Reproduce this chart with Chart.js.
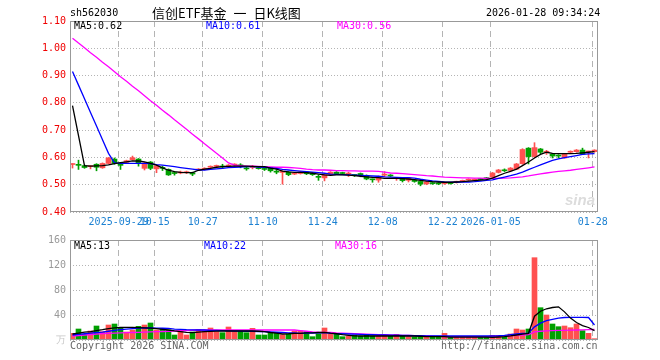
<!DOCTYPE html>
<html>
<head>
<meta charset="utf-8">
<script src="https://cdn.jsdelivr.net/npm/chart.js@4.4.1/dist/chart.umd.min.js"></script>
<style>
body{margin:0;background:#fff;}
#wrap{position:relative;width:660px;height:360px;overflow:hidden;}
canvas{position:absolute;left:0;}
.t{position:absolute;font:10px "DejaVu Sans Mono",monospace;line-height:10px;white-space:pre;}
</style>
</head>
<body>
<div id="wrap">
<canvas id="k" width="660" height="230" style="top:0"></canvas>
<canvas id="v" width="660" height="130" style="top:230px"></canvas>
<div class="t" style="left:70px;top:8px;color:#000">sh562030</div>
<div class="t" style="left:152px;top:6px;font:13px 'Noto Sans CJK SC';line-height:14px;word-spacing:4px;color:#000">信创ETF基金 一 日K线图</div>
<div class="t" style="left:486px;top:8px;color:#000">2026-01-28 09:34:24</div>
<div class="t" style="left:74px;top:21px;color:#000">MA5:0.62</div>
<div class="t" style="left:206px;top:21px;color:#0000ff">MA10:0.61</div>
<div class="t" style="left:337px;top:21px;color:#ff00ff">MA30:0.56</div>
<div class="t" style="left:565px;top:192px;font:bold italic 15px 'Liberation Sans';line-height:15px;color:#dcdcdc">sina</div>
<div class="t" style="left:74px;top:241px;color:#000">MA5:13</div>
<div class="t" style="left:204px;top:241px;color:#0000ff">MA10:22</div>
<div class="t" style="left:335px;top:241px;color:#ff00ff">MA30:16</div>
<div class="t" style="left:70px;top:341px;color:#666">Copyright 2026 SINA.COM</div>
<div class="t" style="left:441px;top:341px;color:#666">http://finance.sina.com.cn</div>
</div>
<script>
// candles, 2025-09-17 .. 2026-01-28
const opens = [0.574,0.573,0.570,0.566,0.575,0.562,0.578,0.594,0.573,0.582, 0.592,0.594,0.560,0.583,0.558,0.562,0.556,0.543,0.543,0.544,
  0.544,0.554,0.557,0.564,0.567,0.567,0.567,0.572,0.571,0.561, 0.563,0.562,0.558,0.561,0.548,0.545,0.546,0.539,0.541,0.547,
  0.543,0.529,0.525,0.538,0.546,0.543,0.539,0.536,0.541,0.534, 0.520,0.517,0.535,0.534,0.523,0.525,0.516,0.517,0.512,0.503,
  0.506,0.505,0.504,0.506,0.509,0.512,0.517,0.517,0.521,0.524, 0.528,0.545,0.553,0.552,0.557,0.577,0.634,0.603,0.631,0.619,
  0.612,0.607,0.598,0.619,0.621,0.627,0.620,0.621];
const highs = [0.577,0.590,0.572,0.570,0.577,0.580,0.600,0.598,0.575,0.590, 0.605,0.596,0.582,0.585,0.571,0.568,0.558,0.548,0.550,0.550,
  0.546,0.559,0.562,0.569,0.572,0.575,0.574,0.577,0.577,0.566, 0.571,0.563,0.562,0.563,0.555,0.551,0.548,0.543,0.549,0.548,
  0.545,0.536,0.539,0.548,0.548,0.546,0.546,0.538,0.543,0.536, 0.521,0.532,0.548,0.537,0.527,0.527,0.527,0.519,0.514,0.512,
  0.508,0.507,0.508,0.508,0.513,0.517,0.522,0.521,0.523,0.527, 0.545,0.556,0.558,0.563,0.578,0.632,0.636,0.654,0.633,0.626,
  0.614,0.610,0.614,0.624,0.629,0.634,0.623,0.628];
const lows = [0.561,0.556,0.560,0.558,0.551,0.560,0.576,0.575,0.556,0.580, 0.590,0.568,0.554,0.555,0.544,0.552,0.534,0.535,0.540,0.541,
  0.533,0.552,0.554,0.560,0.563,0.559,0.565,0.568,0.562,0.553, 0.558,0.557,0.552,0.546,0.540,0.502,0.533,0.537,0.539,0.537,
  0.534,0.516,0.514,0.535,0.537,0.538,0.530,0.530,0.529,0.518, 0.509,0.509,0.530,0.530,0.516,0.510,0.510,0.509,0.496,0.500,
  0.501,0.500,0.501,0.502,0.506,0.510,0.514,0.515,0.517,0.519, 0.526,0.543,0.548,0.550,0.555,0.575,0.576,0.600,0.614,0.611,
  0.598,0.598,0.597,0.616,0.619,0.610,0.598,0.619];
const closes = [0.576,0.571,0.563,0.568,0.564,0.578,0.598,0.578,0.571,0.588, 0.599,0.577,0.580,0.560,0.569,0.560,0.536,0.541,0.545,0.546,
  0.539,0.557,0.559,0.566,0.569,0.565,0.572,0.574,0.569,0.558, 0.566,0.559,0.556,0.551,0.546,0.549,0.537,0.541,0.547,0.540,
  0.537,0.527,0.537,0.546,0.539,0.541,0.541,0.534,0.534,0.521, 0.518,0.530,0.537,0.532,0.525,0.515,0.525,0.512,0.502,0.510,
  0.504,0.503,0.506,0.504,0.511,0.514,0.519,0.519,0.519,0.522, 0.543,0.554,0.551,0.561,0.576,0.629,0.603,0.636,0.619,0.621,
  0.605,0.605,0.612,0.621,0.627,0.612,0.621,0.627];
const ma5 = [0.79,0.68,0.570,0.568,0.569,0.570,0.573,0.577,0.581,0.584, 0.587,0.587,0.584,0.578,0.572,0.562,0.553,0.548,0.545,0.544,
  0.544,0.553,0.557,0.560,0.564,0.566,0.567,0.568,0.568,0.568, 0.567,0.566,0.566,0.561,0.557,0.550,0.547,0.545,0.545,0.544,
  0.542,0.539,0.536,0.534,0.536,0.536,0.535,0.533,0.531,0.529, 0.527,0.526,0.523,0.523,0.523,0.522,0.521,0.519,0.516,0.513,
  0.511,0.510,0.509,0.509,0.510,0.511,0.513,0.515,0.517,0.519, 0.524,0.533,0.542,0.549,0.557,0.570,0.583,0.598,0.611,0.619,
  0.615,0.614,0.614,0.614,0.615,0.617,0.619,0.621];
const ma10 = [0.915,0.865,0.815,0.765,0.715,0.665,0.615,0.580,0.578,0.578, 0.578,0.578,0.578,0.577,0.574,0.572,0.569,0.566,0.563,0.560,
  0.557,0.554,0.554,0.556,0.558,0.560,0.563,0.564,0.565,0.566, 0.566,0.565,0.564,0.562,0.560,0.556,0.554,0.552,0.550,0.548,
  0.546,0.544,0.542,0.539,0.538,0.537,0.536,0.535,0.534,0.533, 0.532,0.531,0.529,0.528,0.527,0.526,0.526,0.524,0.520,0.517,
  0.514,0.512,0.510,0.509,0.509,0.510,0.510,0.511,0.513,0.516, 0.518,0.523,0.528,0.533,0.539,0.546,0.555,0.564,0.573,0.581,
  0.589,0.595,0.599,0.603,0.607,0.611,0.613,0.614];
const ma30 = [1.037,1.019,1.002,0.984,0.967,0.949,0.932,0.914,0.896,0.879, 0.861,0.844,0.826,0.808,0.791,0.773,0.756,0.738,0.721,0.703,
  0.685,0.668,0.650,0.633,0.615,0.598,0.580,0.572,0.570,0.568, 0.568,0.567,0.566,0.565,0.564,0.564,0.563,0.562,0.560,0.557,
  0.555,0.554,0.554,0.553,0.552,0.552,0.551,0.551,0.550,0.550, 0.550,0.549,0.546,0.543,0.542,0.541,0.539,0.537,0.535,0.533,
  0.532,0.530,0.528,0.527,0.526,0.525,0.525,0.524,0.524,0.523, 0.523,0.523,0.524,0.525,0.527,0.529,0.532,0.536,0.540,0.543,
  0.546,0.549,0.551,0.553,0.556,0.559,0.562,0.565];
const vols = [10.7,17.6,9,14.4,22.4,13.3,24,25.6,20.3,12.8, 16,21.9,24,27.2,16,17.6,16,8,14.4,8,
  12.8,17,13.9,19.2,13.3,11.7,20.8,13.3,14.4,11.7, 18.7,8,8,11.7,11.7,8.5,9.6,14.4,14.4,13.3,
  5.3,10,19.2,9.6,10.7,5.3,6.4,8,6.4,8, 6.4,6.4,6.4,6.4,9,6.4,5.3,5.3,5.3,6.4,
  6.4,6.4,10.7,5.3,5.3,5.3,5.3,4.3,5.3,4.3, 7.5,7.5,5.3,9.6,17.6,16,17.6,131.7,51.7,40,
  25.6,21.3,22.4,19.7,25.6,14.9,10.7,2.1];
const vma5 = [9.6,11,12.5,13.5,15,16.5,18.3,19.3,20,20.3, 20.2,19.8,19.5,19,18.2,17,16,14.5,13.3,12.3,
  11.7,12.5,13.3,13.8,14.2,14.4,14.4,14.4,14.4,14.4, 14.4,14,13.3,12,11,9.6,10,10.7,10.7,11.5,
  11.5,12,12.3,11,10,8.5,7.5,6.5,6.4,6.4, 6.4,6.4,6.4,6.4,6.4,6.4,6.4,6.4,6,5.3,
  5.3,5.3,5.3,4.5,4.5,4.5,4.5,4.5,4.5,4.5, 4.3,4.8,5.5,6.5,8,9.5,10.7,38,46,50,
  52,53,45,35,28,23,20,15];
const vma10 = [8,9,10,11,12,12.7,14,15.5,16.5,17.5, 18.3,19,19.2,19.2,19,18.8,18.7,17.5,17,16.5,
  16.3,16,16,15.5,15.2,15,14.7,14.4,14.2,14, 13.8,13.6,13.3,12.8,12.4,12,11.5,11.2,10.7,11,
  11.2,11.5,11.7,10.7,10.3,10,9.6,9.3,9,8.7, 8.4,8,8,7.8,7.6,7.4,7.2,7,6.8,6.6,
  6.4,6.4,6.4,6.4,6.4,6.4,6.4,6.4,6.4,6.4, 6.4,6.8,7.5,8.5,9.6,10.5,11,21,27,31,
  33,35,36,36.3,36.3,36.3,36,24];
const vma30 = [6.4,7.2,8,8.8,9.6,10.3,10.7,11,11.3,11.7, 12,12.3,12.6,13,13.3,13.6,14,14.4,14.8,15.2,
  15.6,16,16,16,16,16,16,16,16,16, 16,16,16,16,16,16,16,16,15,14,
  13,12.5,12.3,12.3,11.5,11,10.7,10.2,9.8,9.4, 9,8.7,8.4,8,7.8,7.5,7.2,7,6.7,6.4,
  6.1,5.8,5.5,5.3,5.3,5.3,5.3,5.3,5.3,5.5, 5.8,6.1,6.4,7,7.5,8,8.5,13,14,14.5,
  15,15.3,15.5,15.8,16,16.3,16.6,16.8];
const tickIdx = [8, 14, 22, 32, 42, 52, 62, 70, 87];
const tickLabels = ['2025-09-29', '10-15', '10-27', '11-10', '11-24', '12-08', '12-22', '2026-01-05', '01-28'];

const mono = {family: '"DejaVu Sans Mono", monospace', size: 10};
const colors = closes.map((c, i) => c >= opens[i] ? '#ff5050' : '#00a000');
const pts = arr => arr.map((v, i) => ({x: i, y: v}));

const frame = {
  id: 'frame',
  afterDraw(chart) {
    const a = chart.chartArea;
    const ctx = chart.ctx;
    ctx.save();
    ctx.strokeStyle = '#999';
    ctx.lineWidth = 1;
    ctx.strokeRect(a.left + 0.5, a.top + 0.5, a.right - a.left - 1, a.bottom - a.top - 1);
    ctx.restore();
  }
};

function xAxis(labels) {
  return {
    type: 'linear', min: -0.4167, max: 87.5833, offset: false, bounds: 'data',
    afterBuildTicks: s => { s.ticks = tickIdx.map(i => ({value: i - 0.3})); },
    afterFit: s => { s.height = labels ? 18 : 20; },
    grid: {color: '#b4b4b4', drawTicks: false, offset: false},
    border: {display: false, dash: [6, 4]},
    ticks: {display: labels, autoSkip: false, maxRotation: 0, padding: 4, color: '#1e82d2', font: mono,
      callback: (v, k) => tickLabels[k]}
  };
}

function maLine(data, color) {
  return {type: 'line', data: pts(data), borderColor: color, borderWidth: 1.3, pointRadius: 0, order: 0};
}

new Chart(document.getElementById('k'), {
  type: 'bar',
  data: {
    datasets: [
      maLine(ma5, '#000000'),
      maLine(ma10, '#0000ff'),
      maLine(ma30, '#ff00ff'),
      {data: opens.map((o, i) => ({x: i, y: [o, closes[i]]})), backgroundColor: colors,
        barThickness: 5, minBarLength: 1, grouped: false, order: 1},
      {data: lows.map((l, i) => ({x: i, y: [l, highs[i]]})), backgroundColor: colors,
        barThickness: 1, grouped: false, order: 2}
    ]
  },
  options: {
    responsive: false, animation: false, events: [],
    layout: {padding: {left: 0, right: 62, top: 21, bottom: 0}},
    plugins: {legend: {display: false}, tooltip: {enabled: false}},
    scales: {
      x: xAxis(true),
      y: {
        min: 0.4, max: 1.1,
        afterFit: s => { s.width = 70; },
        grid: {color: '#b4b4b4', drawTicks: false},
        border: {display: false, dash: [1, 2]},
        ticks: {stepSize: 0.1, padding: 4, color: '#f00000', font: mono, callback: v => v.toFixed(2)}
      }
    }
  },
  plugins: [frame]
});

new Chart(document.getElementById('v'), {
  type: 'bar',
  data: {
    datasets: [
      maLine(vma5, '#000000'),
      maLine(vma10, '#0000ff'),
      maLine(vma30, '#ff00ff'),
      {data: pts(vols), backgroundColor: colors, barThickness: 5, grouped: false, order: 1}
    ]
  },
  options: {
    responsive: false, animation: false, events: [],
    layout: {padding: {left: 0, right: 62, top: 10, bottom: 0}},
    plugins: {legend: {display: false}, tooltip: {enabled: false}},
    scales: {
      x: xAxis(false),
      y: {
        min: 0, max: 160,
        afterFit: s => { s.width = 70; },
        grid: {color: '#b4b4b4', drawTicks: false},
        border: {display: false, dash: [1, 2]},
        ticks: {stepSize: 40, padding: 4, font: mono,
          color: c => c.tick && c.tick.value === 0 ? '#c8c8c8' : '#999',
          callback: v => v === 0 ? '万' : v}
      }
    }
  },
  plugins: [frame]
});
</script>
</body>
</html>
